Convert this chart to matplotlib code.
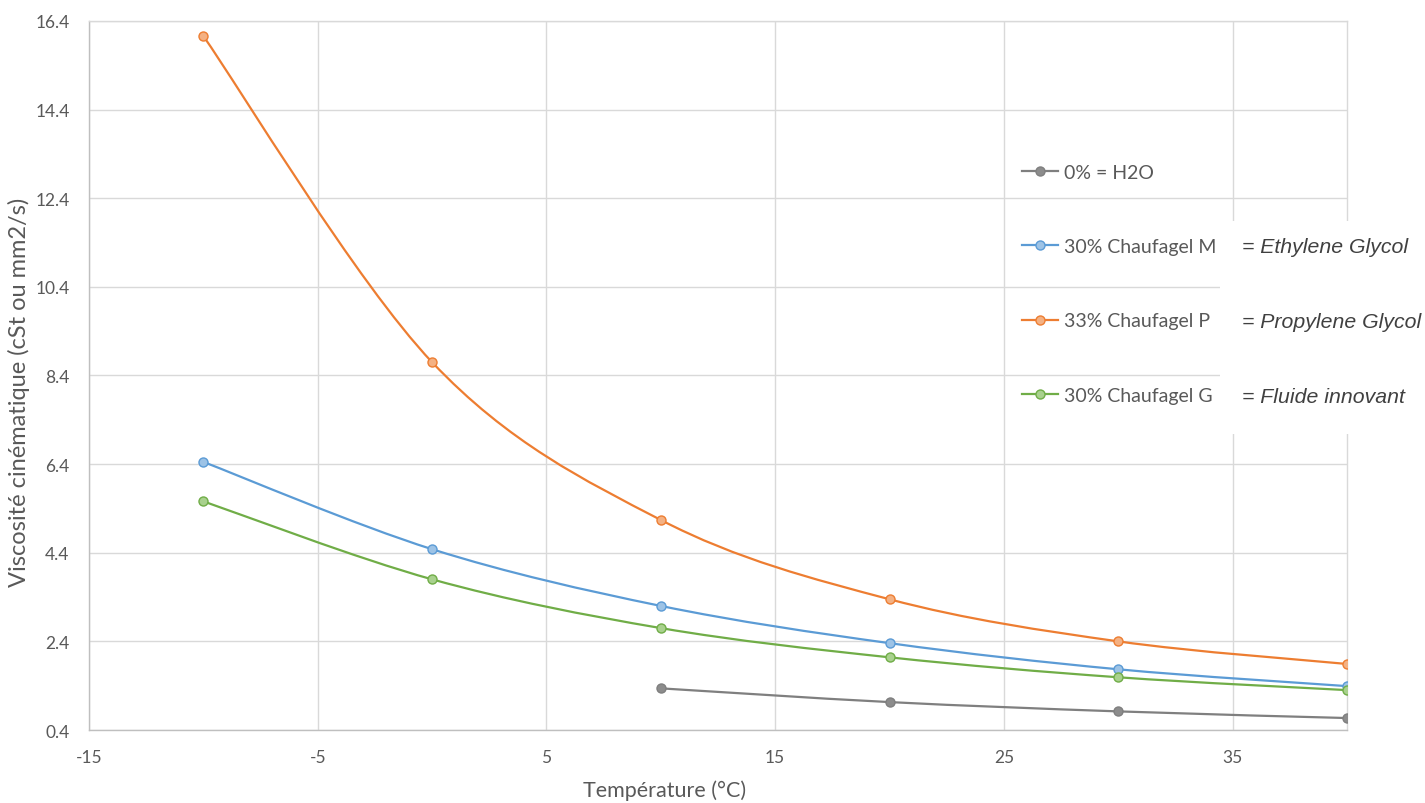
import matplotlib
matplotlib.use("Agg")
import matplotlib.pyplot as plt
from matplotlib.path import Path
from matplotlib.patches import PathPatch, Rectangle
from matplotlib.lines import Line2D

# Données
temp_eau = [10, 20, 30, 40]
visc_eau = [1.34, 1.03, 0.82, 0.67]

temp = [-10, 0, 10, 20, 30, 40]
visc_m = [6.45, 4.48, 3.20, 2.36, 1.77, 1.39]
visc_p = [16.06, 8.70, 5.14, 3.35, 2.40, 1.89]
visc_g = [5.56, 3.80, 2.70, 2.04, 1.59, 1.30]

labels = ["0% = H2O", "30% Chaufagel M", "33% Chaufagel P", "30% Chaufagel G"]
notes = ["= Ethylene Glycol", "= Propylene Glycol", "= Fluide innovant"]

couleurs = ["#7f7f7f", "#5b9bd5", "#ed7d31", "#70ad47"]
faces = ["#8c8c8c", "#9dc3e6", "#f4b183", "#a9d18e"]

x_ticks = [-15, -5, 5, 15, 25, 35]
y_ticks = [0.4, 2.4, 4.4, 6.4, 8.4, 10.4, 12.4, 14.4, 16.4]

police = "Lato"
gris_txt = "#595959"
plt.rcParams["axes.unicode_minus"] = False


def courbe_lisse(ax, xs, ys, color, zorder=3):
    # courbe de Bezier type Catmull-Rom (lissage façon Excel)
    pts = list(zip(xs, ys))
    verts = [pts[0]]
    codes = [Path.MOVETO]
    n = len(pts)
    for i in range(n - 1):
        p0 = pts[i - 1] if i > 0 else pts[i]
        p1 = pts[i]
        p2 = pts[i + 1]
        p3 = pts[i + 2] if i + 2 < n else pts[i + 1]
        c1 = (p1[0] + (p2[0] - p0[0]) / 6, p1[1] + (p2[1] - p0[1]) / 6)
        c2 = (p2[0] - (p3[0] - p1[0]) / 6, p2[1] - (p3[1] - p1[1]) / 6)
        verts += [c1, c2, p2]
        codes += [Path.CURVE4] * 3
    patch = PathPatch(Path(verts, codes), fill=False, edgecolor=color,
                      lw=1.6, zorder=zorder, capstyle="round", joinstyle="round")
    ax.add_patch(patch)


fig = plt.figure(figsize=(14.25, 8.04), dpi=100)
ax = fig.add_axes([89 / 1425, 1 - 731 / 804, (1347 - 89) / 1425, (731 - 22) / 804])

series = [(temp_eau, visc_eau), (temp, visc_m), (temp, visc_p), (temp, visc_g)]
for (xs, ys), c, f in zip(series, couleurs, faces):
    courbe_lisse(ax, xs, ys, c)
    ax.plot(xs, ys, linestyle="none", marker="o", ms=6.5, mfc=f, mec=c, mew=1.0, zorder=4)

ax.set_xlim(-15, 40)
ax.set_ylim(0.4, 16.4)
ax.set_xticks(x_ticks)
ax.set_yticks(y_ticks)
ax.set_yticklabels([f"{v:.1f}" for v in y_ticks])
ax.grid(True, color="#d9d9d9", lw=1.0)
ax.set_axisbelow(True)
for s in ax.spines.values():
    s.set_color("#d9d9d9")
    s.set_linewidth(1.0)
ax.spines["left"].set_color("#bfbfbf")
ax.spines["bottom"].set_color("#bfbfbf")
ax.tick_params(length=0, labelsize=12.5, labelcolor=gris_txt)
ax.tick_params(axis="x", pad=14)
ax.tick_params(axis="y", pad=14)
for t in ax.get_xticklabels() + ax.get_yticklabels():
    t.set_fontfamily(police)

ax.set_xlabel("Température (°C)", fontsize=15.5, color=gris_txt, family=police)
ax.set_ylabel("Viscosité cinématique (cSt ou mm2/s)", fontsize=17, color=gris_txt, family=police)
ax.xaxis.set_label_coords((665 - 89) / (1347 - 89), -(791 - 731) / (731 - 22))
ax.yaxis.set_label_coords(-(89 - 19) / (1347 - 89), (731 - 392) / (731 - 22))
ax.xaxis.label.set_va("center")
ax.yaxis.label.set_va("center")

# légende sans cadre
handles = [Line2D([], [], color=c, lw=1.6, marker="o", ms=6.5, mfc=f, mec=c)
           for c, f in zip(couleurs, faces)]
leg = ax.legend(handles, labels, loc="upper left", bbox_to_anchor=(1012 / 1425, 1 - 155 / 804),
                bbox_transform=fig.transFigure, frameon=False, handlelength=1.85,
                handletextpad=0.3, labelspacing=2.95, borderpad=0,
                prop={"family": police, "size": 14})
for t in leg.get_texts():
    t.set_color(gris_txt)

# zone blanche avec les équivalences
fig.add_artist(Rectangle((1220 / 1425, 1 - 435 / 804), 205 / 1425, 213 / 804,
                         transform=fig.transFigure, facecolor="white", edgecolor="none", zorder=5))
for i, note in enumerate(notes):
    fig.text(1242 / 1425, 1 - (248 + 75 * i) / 804, note, fontsize=15.3, style="italic",
             family="Liberation Sans", color="#404040", va="center", ha="left", zorder=6)

fig.savefig("out.png", dpi=100)
